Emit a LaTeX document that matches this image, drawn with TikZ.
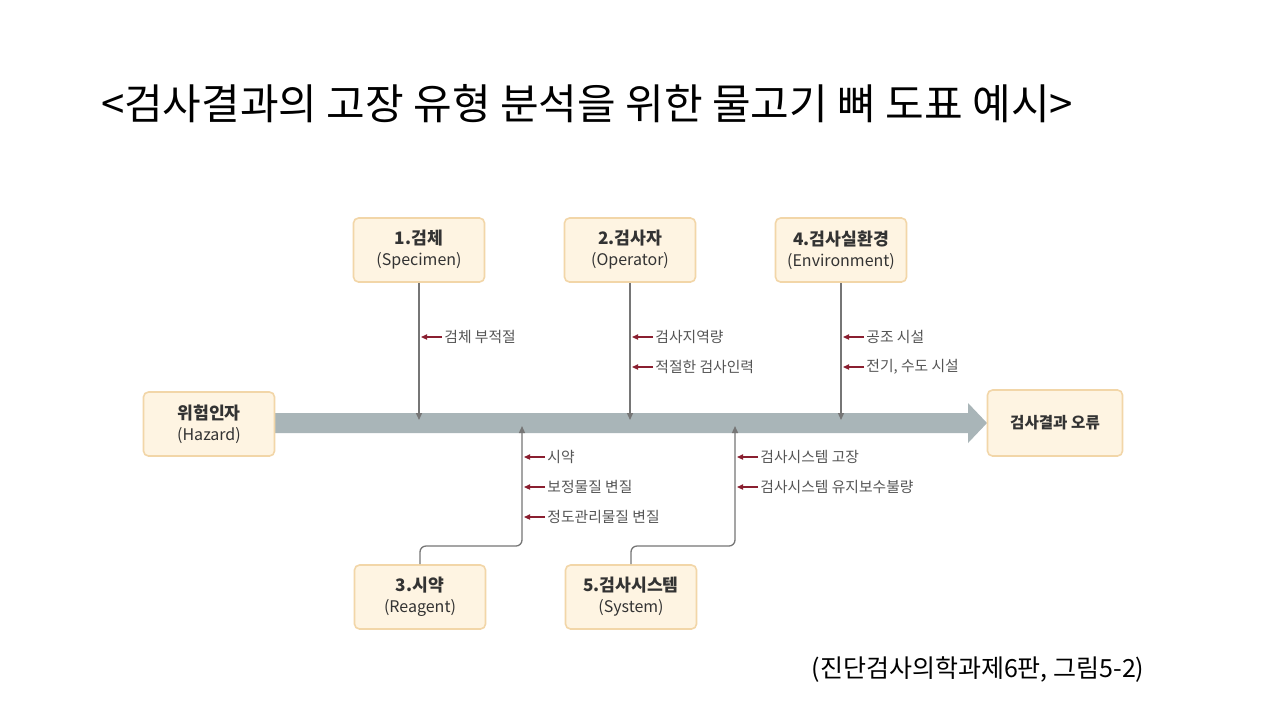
\documentclass[tikz,border=0pt]{standalone}
\usepackage{fontspec}
\setmainfont{Noto Sans CJK KR}
\usetikzlibrary{arrows.meta}
\definecolor{boxfill}{HTML}{FEF4E2}
\definecolor{boxborder}{HTML}{F2D6A8}
\definecolor{spinecol}{HTML}{A9B5B8}
\definecolor{linecol}{HTML}{767676}
\definecolor{redcol}{HTML}{8A1F30}
\definecolor{txtcol}{HTML}{333333}
\definecolor{labcol}{HTML}{555555}
\newcommand{\bt}[1]{{\fontsize{8.6pt}{10pt}\selectfont\bfseries #1}}
\tikzset{
  cat/.style={draw=boxborder, fill=boxfill, line width=0.8pt, rounded corners=2.5pt,
    minimum width=65.5pt, minimum height=32pt, align=center, text=txtcol,
    font=\fontsize{8pt}{10.5pt}\selectfont, inner sep=0pt},
  gline/.style={draw=linecol, line width=0.65pt, -{Triangle[length=3.5pt,width=3pt]}},
  gconn/.style={draw=linecol, line width=0.65pt, rounded corners=3pt, -{Triangle[length=3.5pt,width=3pt]}},
  redarr/.style={draw=redcol, line width=0.7pt, -{Triangle[length=3pt,width=2.6pt]}},
  lab/.style={anchor=west, text=labcol, inner sep=1pt, font=\fontsize{7.4pt}{9pt}\selectfont},
}
\begin{document}
\begin{tikzpicture}[x=0.5pt,y=-0.5pt]
\useasboundingbox (0,0) rectangle (1280,720);
\fill[white] (0,0) rectangle (1280,720);
% title
\node[font=\fontsize{21pt}{25pt}\selectfont, text=black] (title) at (587,104)
  {<검사결과의 고장 유형 분석을 위한 물고기 뼈 도표 예시>};
% spine
\fill[spinecol] (275,413) -- (968,413) -- (968,403) -- (987,423) -- (968,443)
  -- (968,433) -- (275,433) -- cycle;
% boxes
\node[cat] (haz) at (209,424) {\bt{위험인자}\\(Hazard)};
\node[cat, minimum width=67.5pt, minimum height=33pt] (res) at (1055,423) {{\fontsize{7.8pt}{9pt}\selectfont\bfseries 검사결과 오류}};
\node[cat] (b1) at (419,250) {\bt{1.검체}\\(Specimen)};
\node[cat] (b2) at (630,250) {\bt{2.검사자}\\(Operator)};
\node[cat] (b4) at (841,250) {\bt{4.검사실환경}\\(Environment)};
\node[cat] (b3) at (420,597) {\bt{3.시약}\\(Reagent)};
\node[cat] (b5) at (631,597) {\bt{5.검사시스템}\\(System)};
% spine endpoints
\coordinate (t1) at (419,420);
\coordinate (t2) at (630,420);
\coordinate (t4) at (841,420);
\coordinate (t3) at (522,426);
\coordinate (t5) at (735,426);
\coordinate (j3) at (522,546);
\coordinate (j5) at (735,546);
\draw[gline] (b1.south) -- (t1);
\draw[gline] (b2.south) -- (t2);
\draw[gline] (b4.south) -- (t4);
\draw[gconn] (b3.north) |- (j3) -- (t3);
\draw[gconn] (b5.north) |- (j5) -- (t5);
% sub-cause labels
\node[lab] (l11) at (442,337) {검체 부적절};
\node[lab] (l21) at (653,337) {검사지역량};
\node[lab] (l22) at (653,367) {적절한 검사인력};
\node[lab] (l41) at (864,337) {공조 시설};
\node[lab] (l42) at (864,367) {전기, 수도 시설};
\node[lab] (l31) at (545,457) {시약};
\node[lab] (l32) at (545,487) {보정물질 변질};
\node[lab] (l33) at (545,517) {정도관리물질 변질};
\node[lab] (l51) at (758,457) {검사시스템 고장};
\node[lab] (l52) at (758,487) {검사시스템 유지보수불량};
\coordinate (p11) at (421,337);
\coordinate (p21) at (632,337);
\coordinate (p22) at (632,367);
\coordinate (p41) at (843,337);
\coordinate (p42) at (843,367);
\coordinate (p31) at (524,457);
\coordinate (p32) at (524,487);
\coordinate (p33) at (524,517);
\coordinate (p51) at (737,457);
\coordinate (p52) at (737,487);
\draw[redarr] (l11.west) -- (p11);
\draw[redarr] (l21.west) -- (p21);
\draw[redarr] (l22.west) -- (p22);
\draw[redarr] (l41.west) -- (p41);
\draw[redarr] (l42.west) -- (p42);
\draw[redarr] (l31.west) -- (p31);
\draw[redarr] (l32.west) -- (p32);
\draw[redarr] (l33.west) -- (p33);
\draw[redarr] (l51.west) -- (p51);
\draw[redarr] (l52.west) -- (p52);
% citation
\node[font=\fontsize{12.5pt}{15pt}\selectfont, text=black] (cite) at (978,670)
  {(진단검사의학과제6판, 그림5-2)};
\end{tikzpicture}
\end{document}
